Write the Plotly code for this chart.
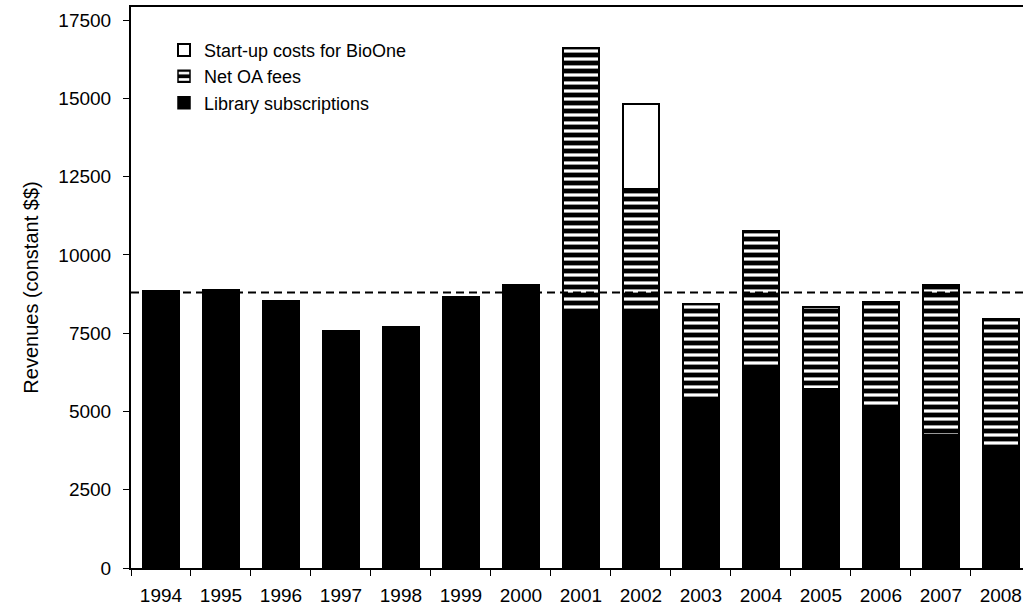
import plotly.graph_objects as go

years = ["1994", "1995", "1996", "1997", "1998", "1999", "2000", "2001",
         "2002", "2003", "2004", "2005", "2006", "2007", "2008"]
library_subscriptions = [8850, 8900, 8520, 7570, 7700, 8650, 9040, 8200,
                         8200, 5390, 6380, 5740, 5080, 4250, 3820]
net_oa_fees = [None, None, None, None, None, None, None, 8420,
               3890, 3060, 4380, 2590, 3430, 4790, 4130]
startup_bioone = [None, None, None, None, None, None, None, None,
                  2740, None, None, None, None, None, None]
reference_level = 8800
y_ticks = [0, 2500, 5000, 7500, 10000, 12500, 15000, 17500]

FONT = "Liberation Sans, Arial, sans-serif"

fig = go.Figure()
fig.add_trace(go.Bar(
    x=years, y=library_subscriptions, name="Library subscriptions",
    marker=dict(color="black", line=dict(color="black", width=1.5)),
    width=0.6,
))
fig.add_trace(go.Bar(
    x=years, y=net_oa_fees, name="Net OA fees",
    marker=dict(color="black", line=dict(color="black", width=1.5),
                pattern=dict(shape="-", fgcolor="white", bgcolor="black",
                             fgopacity=1, size=8, solidity=0.4)),
    width=0.6,
))
fig.add_trace(go.Bar(
    x=years, y=startup_bioone, name="Start-up costs for BioOne",
    marker=dict(color="white", line=dict(color="black", width=2)),
    width=0.6,
))

fig.add_shape(type="line", xref="paper", x0=0, x1=1,
              yref="y", y0=reference_level, y1=reference_level,
              line=dict(color="black", width=2, dash="8px,5px"))

fig.update_layout(
    width=1023, height=608,
    margin=dict(l=131, r=0, t=7, b=40),
    barmode="stack",
    plot_bgcolor="white", paper_bgcolor="white",
    font=dict(family=FONT, size=18, color="black"),
    showlegend=True,
    legend=dict(x=0.037, y=0.956, xanchor="left", yanchor="top",
                traceorder="reversed", bgcolor="rgba(0,0,0,0)",
                font=dict(size=18), itemclick=False),
    xaxis=dict(type="category", range=[-0.5, 14.37], automargin=False,
               showline=True, linecolor="black", linewidth=1.5, mirror=True,
               ticks="outside", ticklen=6, tickcolor="black", tickwidth=1,
               tickson="boundaries", showgrid=False, ticklabelstandoff=9,
               tickfont=dict(size=19)),
    yaxis=dict(range=[0, 17915], tickvals=y_ticks, tickformat="d",
               automargin=False,
               showline=True, linecolor="black", linewidth=2,
               ticks="outside", ticklen=6, tickcolor="black", tickwidth=1,
               showgrid=False, zeroline=False, ticklabelstandoff=8,
               tickfont=dict(size=19),
               title=dict(text="Revenues (constant $$)", font=dict(size=20),
                          standoff=14)),
)

fig.write_html("out.html",
               config={"displayModeBar": False},
               post_script="document.body.style.margin='0';"
                           "document.body.style.overflow='hidden';")
